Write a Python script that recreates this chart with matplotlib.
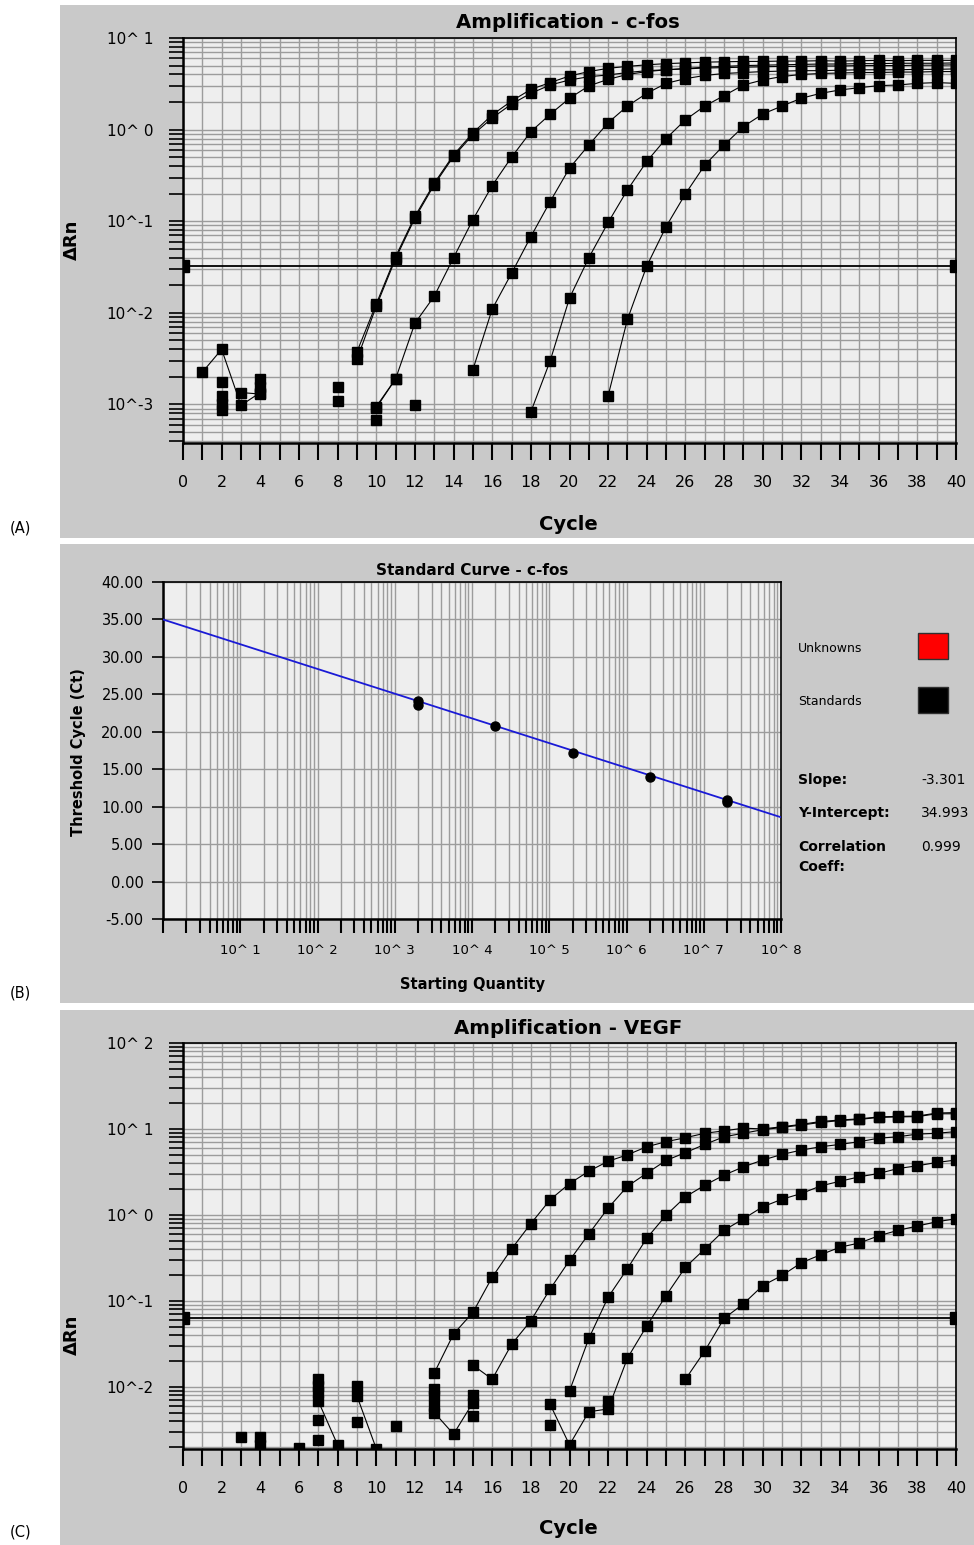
import numpy as np
import matplotlib.pyplot as plt
from matplotlib.patches import Rectangle
from matplotlib.ticker import MultipleLocator, LogLocator, FuncFormatter, NullFormatter

W, H = 974, 1545

# ---- (A) amplification plot, c-fos : delta Rn per cycle ----
cfos_starts = [9, 9, 10, 15, 18, 22]
cfos_curves = [
    [0.00375, 0.0125, 0.041, 0.113, 0.26, 0.53, 0.92, 1.45, 2.05, 2.75, 3.26, 3.85, 4.3, 4.67, 4.9, 5.1,
     5.25, 5.35, 5.45, 5.5, 5.55, 5.55, 5.6, 5.6, 5.65, 5.6, 5.65, 5.7, 5.65, 5.7, 5.7, 5.7],
    [0.0031, 0.0118, 0.039, 0.108, 0.25, 0.51, 0.88, 1.34, 1.9, 2.49, 3.07, 3.48, 3.78, 3.95, 4.2, 4.4,
     4.5, 4.6, 4.7, 4.75, 4.8, 4.85, 4.9, 4.9, 4.95, 4.95, 5.0, 5.0, 5.0, 5.05, 5.05, 5.1],
    [0.00092, 0.0019, 0.0077, 0.0152, 0.040, 0.104, 0.245, 0.50, 0.95, 1.47, 2.2, 3.0, 3.54, 4.0, 4.3,
     4.5, 4.65, 4.8, 4.9, 5.0, 5.05, 5.1, 5.15, 5.2, 5.2, 5.25, 5.25, 5.3, 5.3, 5.3, 5.35],
    [0.0024, 0.011, 0.027, 0.068, 0.164, 0.38, 0.68, 1.19, 1.81, 2.49, 3.2, 3.6, 3.9, 4.1, 4.2, 4.3,
     4.35, 4.4, 4.4, 4.45, 4.5, 4.5, 4.5, 4.55, 4.55, 4.6],
    [0.00083, 0.0030, 0.0145, 0.040, 0.097, 0.22, 0.45, 0.8, 1.28, 1.81, 2.35, 3.07, 3.48, 3.8, 4.0,
     4.1, 4.15, 4.2, 4.2, 4.25, 4.25, 4.3, 4.3],
    [0.00125, 0.0085, 0.0325, 0.0875, 0.199, 0.41, 0.68, 1.08, 1.48, 1.81, 2.2, 2.49, 2.71, 2.87, 3.02,
     3.07, 3.2, 3.26, 3.2],
]
cfos_noise_lines = [([1, 2, 3, 4], [0.00225, 0.0040, 0.00098, 0.00135]),
                    ([3, 4], [0.00135, 0.0013]),
                    ([10, 11], [0.00095, 0.0019])]
cfos_noise_x = [2, 2, 2, 2, 4, 4, 8, 8, 10, 12]
cfos_noise_y = [0.00174, 0.00124, 0.0010, 0.00087, 0.0019, 0.00156, 0.00156, 0.00109, 0.00068, 0.00098]
cfos_threshold = 0.0322

# ---- (B) standard curve, c-fos ----
std_quantity = [2e3, 2e3, 2e4, 2e5, 2e6, 2e7, 2e7]
std_ct = [24.1, 23.6, 20.8, 17.2, 13.9, 10.9, 10.6]
slope = -3.301
intercept = 34.993
corr = 0.999

# ---- (C) amplification plot, VEGF ----
vegf_starts = [13, 15, 20, 19, 26]
vegf_curves = [
    [0.0144, 0.041, 0.073, 0.188, 0.40, 0.79, 1.50, 2.31, 3.22, 4.2, 5.0, 6.2, 7.1, 7.9, 8.9, 9.5,
     10.2, 10.0, 10.6, 11.3, 12.2, 12.7, 13.1, 13.8, 14.0, 14.1, 15.3, 15.5],
    [0.0178, 0.0122, 0.031, 0.0586, 0.137, 0.294, 0.60, 1.2, 2.15, 3.05, 4.3, 5.3, 6.6, 8.1, 8.9, 9.8,
     10.4, 11.1, 11.9, 12.5, 12.9, 13.6, 13.8, 13.9, 15.0, 15.0],
    [0.0089, 0.0364, 0.11, 0.237, 0.535, 0.99, 1.62, 2.21, 2.9, 3.62, 4.34, 5.05, 5.67, 6.2, 6.6, 7.1,
     7.8, 8.1, 8.7, 8.9, 9.3],
    [0.0062, 0.0021, 0.0051, 0.0055, 0.0215, 0.051, 0.115, 0.246, 0.40, 0.66, 0.90, 1.24, 1.52, 1.77,
     2.17, 2.46, 2.77, 3.03, 3.46, 3.72, 4.07, 4.34],
    [0.0122, 0.026, 0.0624, 0.092, 0.150, 0.197, 0.277, 0.343, 0.42, 0.47, 0.57, 0.66, 0.74, 0.83, 0.90],
]
vegf_noise_lines = [([13, 14, 15], [0.0050, 0.0028, 0.0065]),
                    ([7, 8], [0.0068, 0.0021]),
                    ([9, 10], [0.0078, 0.0019])]
vegf_noise_x = [3, 4, 4, 6, 7, 7, 7, 7, 7, 9, 9, 11, 13, 13, 13, 15, 15, 19, 22]
vegf_noise_y = [0.0026, 0.0026, 0.0021, 0.00194, 0.0122, 0.0102, 0.0086, 0.0041, 0.0024, 0.0102,
                0.0039, 0.0035, 0.0093, 0.0078, 0.006, 0.0081, 0.0046, 0.0036, 0.0068]
vegf_threshold = 0.0625

PANEL = '#c9c9c9'
PLOTBG = '#eeeeee'
GRID = '#9c9c9c'


def px_axes(fig, x0, y0, x1, y1):
    return fig.add_axes([x0 / W, 1 - y1 / H, (x1 - x0) / W, (y1 - y0) / H])


def ftext(fig, x, y, s, **kw):
    kw.setdefault('va', 'center')
    return fig.text(x / W, 1 - y / H, s, **kw)


def pow_label(v, pos):
    return f"10^{int(round(np.log10(v))):2d}"


def style_axes(ax):
    ax.set_facecolor(PLOTBG)
    ax.set_axisbelow(True)
    for side in ['left', 'bottom']:
        ax.spines[side].set_linewidth(1.8)
    for side in ['top', 'right']:
        ax.spines[side].set_linewidth(1.2)


def amp_panel(ax, starts, curves, noise_lines, noise_x, noise_y, thr, ylim):
    style_axes(ax)
    ax.set_yscale('log')
    ax.set_xlim(0, 40)
    ax.set_ylim(*ylim)
    ax.xaxis.set_major_locator(MultipleLocator(2))
    ax.xaxis.set_minor_locator(MultipleLocator(1))
    ax.yaxis.set_major_locator(LogLocator(base=10, numticks=20))
    ax.yaxis.set_minor_locator(LogLocator(base=10, subs=np.arange(2, 10), numticks=100))
    ax.yaxis.set_major_formatter(FuncFormatter(pow_label))
    ax.yaxis.set_minor_formatter(NullFormatter())
    ax.grid(True, which='both', color=GRID, lw=1.0)
    ax.tick_params(which='both', direction='out', color='black')
    ax.tick_params(axis='y', which='both', length=10, width=1.2, pad=11, labelsize=11)
    ax.tick_params(axis='x', which='both', length=12, width=1.5, pad=11, labelsize=11.5)

    ax.axhline(thr, color='black', lw=1.3, zorder=3)
    ax.plot([0, 40], [thr, thr], ls='none', marker='s', ms=9, color='black', zorder=4)

    style = dict(color='black', lw=0.8, marker='s', ms=6.5, zorder=5)
    for s, vals in zip(starts, curves):
        ax.plot(np.arange(s, s + len(vals)), vals, **style)
    for xs, ys in noise_lines:
        ax.plot(xs, ys, **style)
    ax.plot(noise_x, noise_y, ls='none', marker='s', ms=6.5, color='black', zorder=5)


fig = plt.figure(figsize=(W / 100, H / 100), dpi=100)
fig.patch.set_facecolor('white')

# grey panel backgrounds
for y0, y1 in [(5, 538), (544, 1003), (1010, 1545)]:
    fig.patches.append(Rectangle((60 / W, 1 - y1 / H), (W - 60) / W, (y1 - y0) / H,
                                 transform=fig.transFigure, facecolor=PANEL, edgecolor='none', zorder=-10))

# ---- panel A ----
axA = px_axes(fig, 183, 38, 956, 443)
amp_panel(axA, cfos_starts, cfos_curves, cfos_noise_lines, cfos_noise_x, cfos_noise_y,
          cfos_threshold, (3.8e-4, 10))
ftext(fig, 568, 22, 'Amplification - c-fos', ha='center', fontsize=14.2, fontweight='bold')
ftext(fig, 568, 524, 'Cycle', ha='center', fontsize=14, fontweight='bold')
ftext(fig, 72, 240, 'ΔRn', ha='center', rotation=90, fontsize=13, fontweight='bold')

# ---- panel B ----
axB = px_axes(fig, 163, 582, 781, 919)
style_axes(axB)
axB.set_xscale('log')
axB.set_xlim(1, 1e8)
axB.set_ylim(-5, 40)
axB.yaxis.set_major_locator(MultipleLocator(5))
axB.yaxis.set_major_formatter(FuncFormatter(lambda v, p: f"{v:.2f}"))
axB.xaxis.set_major_locator(LogLocator(base=10, numticks=20))
axB.xaxis.set_minor_locator(LogLocator(base=10, subs=np.arange(2, 10), numticks=100))
axB.xaxis.set_major_formatter(FuncFormatter(lambda v, p: pow_label(v, p) if v > 1 else ''))
axB.xaxis.set_minor_formatter(NullFormatter())
axB.grid(True, which='both', color=GRID, lw=1.0)
axB.tick_params(which='both', direction='out', color='black')
axB.tick_params(axis='y', length=8, width=1.2, pad=6, labelsize=10.5)
axB.tick_params(axis='x', which='both', length=10, width=1.5, pad=8, labelsize=9.5)

fit_x = np.array(axB.get_xlim())
fit_y = slope * np.log10(fit_x) + intercept
axB.plot(fit_x, fit_y, color='#1a1ad6', lw=1.3, zorder=3)
axB.plot(std_quantity, std_ct, ls='none', marker='o', ms=6.5, color='black', zorder=4)

ftext(fig, 472, 570, 'Standard Curve - c-fos', ha='center', fontsize=11, fontweight='bold')
ftext(fig, 472, 985, 'Starting Quantity', ha='center', fontsize=10.5, fontweight='bold')
ftext(fig, 78, 752, 'Threshold Cycle (Ct)', ha='center', rotation=90, fontsize=10.5, fontweight='bold')

ftext(fig, 798, 648, 'Unknowns', ha='left', fontsize=9)
ftext(fig, 798, 702, 'Standards', ha='left', fontsize=9)
for y0, col in [(633, '#ff0000'), (687, '#000000')]:
    fig.patches.append(Rectangle((918 / W, 1 - (y0 + 26) / H), 30 / W, 26 / H, transform=fig.transFigure,
                                 facecolor=col, edgecolor='#303030', lw=1.0, zorder=5))
ftext(fig, 798, 780, 'Slope:', ha='left', fontsize=10, fontweight='bold')
ftext(fig, 921, 780, f'{slope:.3f}', ha='left', fontsize=10)
ftext(fig, 798, 813, 'Y-Intercept:', ha='left', fontsize=10, fontweight='bold')
ftext(fig, 921, 813, f'{intercept:.3f}', ha='left', fontsize=10)
ftext(fig, 798, 847, 'Correlation', ha='left', fontsize=10, fontweight='bold')
ftext(fig, 798, 867, 'Coeff:', ha='left', fontsize=10, fontweight='bold')
ftext(fig, 921, 847, f'{corr:.3f}', ha='left', fontsize=10)

# ---- panel C ----
axC = px_axes(fig, 183, 1043, 956, 1449)
amp_panel(axC, vegf_starts, vegf_curves, vegf_noise_lines, vegf_noise_x, vegf_noise_y,
          vegf_threshold, (1.88e-3, 100))
ftext(fig, 568, 1028, 'Amplification - VEGF', ha='center', fontsize=14.2, fontweight='bold')
ftext(fig, 568, 1528, 'Cycle', ha='center', fontsize=14, fontweight='bold')
ftext(fig, 72, 1335, 'ΔRn', ha='center', rotation=90, fontsize=13, fontweight='bold')

# panel letters
for y, lab in [(528, '(A)'), (993, '(B)'), (1532, '(C)')]:
    ftext(fig, 10, y, lab, ha='left', fontsize=10.5)

fig.savefig('out.png', dpi=100, facecolor='white')
